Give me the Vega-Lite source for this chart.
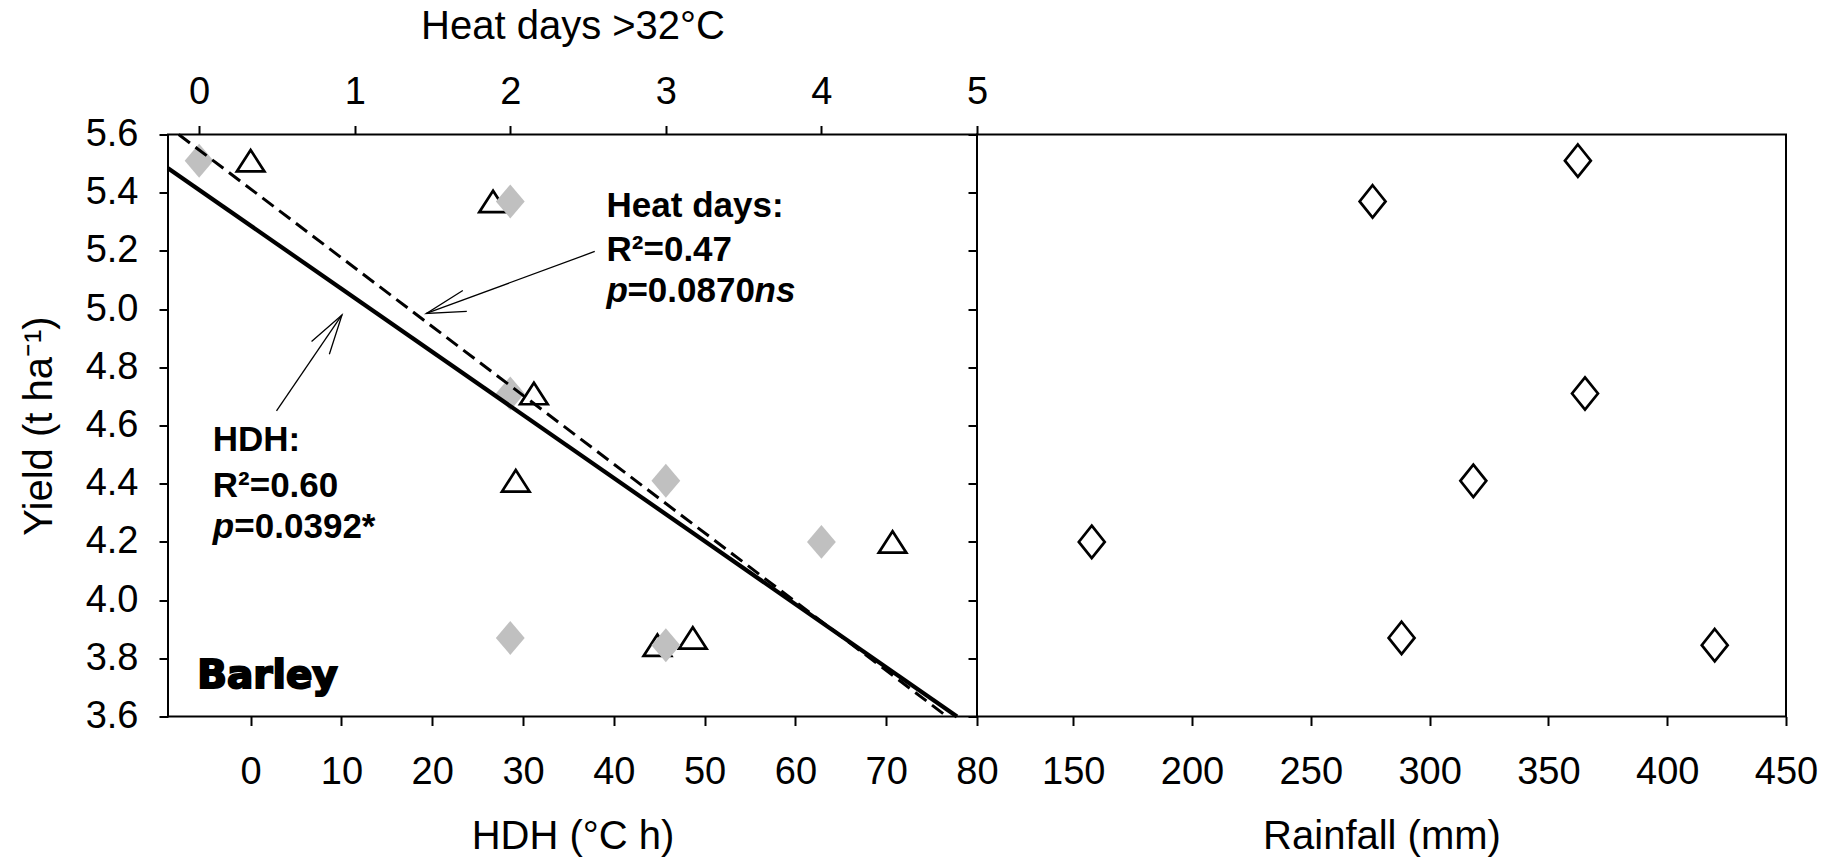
{
  "$schema": "https://vega.github.io/schema/vega-lite/v6.json",
  "background": "white",
  "padding": {"left": 18, "top": 4.5, "right": 40, "bottom": 5},
  "bounds": "flush",
  "spacing": 0,
  "datasets": {
    "hdh": [
      {"hdh": 0, "yield": 5.51},
      {"hdh": 26.7, "yield": 5.37},
      {"hdh": 31.2, "yield": 4.71},
      {"hdh": 29.2, "yield": 4.41},
      {"hdh": 70.7, "yield": 4.2},
      {"hdh": 48.7, "yield": 3.87},
      {"hdh": 44.8, "yield": 3.845}
    ],
    "heat": [
      {"days": 0, "yield": 5.51},
      {"days": 2, "yield": 5.37},
      {"days": 2, "yield": 4.71},
      {"days": 3, "yield": 4.41},
      {"days": 4, "yield": 4.2},
      {"days": 2, "yield": 3.87},
      {"days": 3, "yield": 3.845}
    ],
    "rain": [
      {"rainfall": 157.8, "yield": 4.2},
      {"rainfall": 276, "yield": 5.37},
      {"rainfall": 288.2, "yield": 3.87},
      {"rainfall": 318.4, "yield": 4.41},
      {"rainfall": 362.4, "yield": 5.51},
      {"rainfall": 365.4, "yield": 4.71},
      {"rainfall": 420, "yield": 3.845}
    ],
    "fitHDH": [
      {"hdh": -9.1, "yield": 5.484},
      {"hdh": 77.8, "yield": 3.6}
    ],
    "fitHeat": [
      {"days": -0.131, "yield": 5.6},
      {"days": 4.807, "yield": 3.6}
    ],
    "arrows": [
      {"seg": "s1", "o": 0, "hdh": 37.9, "yield": 5.198},
      {"seg": "s1", "o": 1, "hdh": 19.36, "yield": 4.985},
      {"seg": "h1", "o": 0, "hdh": 23.37, "yield": 5.064},
      {"seg": "h1", "o": 1, "hdh": 19.36, "yield": 4.985},
      {"seg": "h1", "o": 2, "hdh": 23.81, "yield": 4.992},
      {"seg": "s2", "o": 0, "hdh": 2.85, "yield": 4.65},
      {"seg": "s2", "o": 1, "hdh": 10.06, "yield": 4.98},
      {"seg": "h2", "o": 0, "hdh": 6.71, "yield": 4.889},
      {"seg": "h2", "o": 1, "hdh": 10.06, "yield": 4.98},
      {"seg": "h2", "o": 2, "hdh": 8.67, "yield": 4.845}
    ],
    "labels": [
      {"label": "Heat days:", "style": "b", "hdh": 39.2, "yield": 5.318},
      {"label": "R²=0.47", "style": "b", "hdh": 39.2, "yield": 5.164},
      {"label": "p", "style": "bi", "hdh": 39.2, "yield": 5.026},
      {"label": "=0.0870", "style": "b", "hdh": 41.5, "yield": 5.026},
      {"label": "ns", "style": "bi", "hdh": 55.5, "yield": 5.026},
      {"label": "HDH:", "style": "b", "hdh": -4.17, "yield": 4.511},
      {"label": "R²=0.60", "style": "b", "hdh": -4.17, "yield": 4.356},
      {"label": "p", "style": "bi", "hdh": -4.17, "yield": 4.212},
      {"label": "=0.0392*", "style": "b", "hdh": -1.79, "yield": 4.212},
      {"label": "Barley", "style": "black", "hdh": -5.88, "yield": 3.697}
    ]
  },
  "hconcat": [
    {
      "width": 809,
      "height": 582,
      "layer": [
        {
          "data": {"name": "hdh"},
          "mark": {"type": "point", "shape": "M0,-0.78L1,0.78L-1,0.78Z", "size": 760, "filled": false, "stroke": "black", "strokeWidth": 2.7, "opacity": 1},
          "encoding": {
            "x": {"field": "hdh", "type": "quantitative", "scale": {"domain": [-9.1, 80], "nice": false, "zero": false},
                  "axis": {"orient": "bottom", "values": [0, 10, 20, 30, 40, 50, 60, 70, 80], "format": "d", "title": "HDH (°C h)"}},
            "y": {"field": "yield", "type": "quantitative", "scale": {"domain": [3.6, 5.6], "nice": false, "zero": false},
                  "axis": {"values": [3.6, 3.8, 4.0, 4.2, 4.4, 4.6, 4.8, 5.0, 5.2, 5.4, 5.6], "format": ".1f", "title": "Yield (t ha⁻¹)"}}
          }
        },
        {
          "layer": [
            {
              "data": {"name": "heat"},
              "mark": {"type": "point", "shape": "M0,-1L0.85,0L0,1L-0.85,0Z", "size": 1150, "filled": true, "fill": "#c0c0c0", "strokeWidth": 0, "opacity": 1},
              "encoding": {
                "x": {"field": "days", "type": "quantitative", "scale": {"domain": [-0.2, 5], "nice": false, "zero": false},
                      "axis": {"orient": "top", "values": [0, 1, 2, 3, 4, 5], "format": "d", "title": "Heat days >32°C"}},
                "y": {"field": "yield", "type": "quantitative", "scale": {"domain": [3.6, 5.6], "nice": false, "zero": false}}
              }
            },
            {
              "data": {"name": "fitHeat"},
              "mark": {"type": "line", "color": "black", "strokeWidth": 3, "strokeDash": [14, 7]},
              "encoding": {
                "x": {"field": "days", "type": "quantitative", "scale": {"domain": [-0.2, 5], "nice": false, "zero": false}},
                "y": {"field": "yield", "type": "quantitative", "scale": {"domain": [3.6, 5.6], "nice": false, "zero": false}}
              }
            }
          ]
        },
        {
          "layer": [
            {
              "data": {"name": "fitHDH"},
              "mark": {"type": "line", "color": "black", "strokeWidth": 4.2},
              "encoding": {
                "x": {"field": "hdh", "type": "quantitative", "scale": {"domain": [-9.1, 80], "nice": false, "zero": false}, "axis": null},
                "y": {"field": "yield", "type": "quantitative", "scale": {"domain": [3.6, 5.6], "nice": false, "zero": false}}
              }
            },
            {
              "data": {"name": "arrows"},
              "mark": {"type": "line", "color": "black", "strokeWidth": 1.3},
              "encoding": {
                "x": {"field": "hdh", "type": "quantitative", "scale": {"domain": [-9.1, 80], "nice": false, "zero": false}, "axis": null},
                "y": {"field": "yield", "type": "quantitative", "scale": {"domain": [3.6, 5.6], "nice": false, "zero": false}},
                "detail": {"field": "seg"},
                "order": {"field": "o"}
              }
            },
            {
              "data": {"name": "labels"},
              "transform": [{"filter": "datum.style === 'b'"}],
              "mark": {"type": "text", "align": "left", "baseline": "alphabetic", "font": "Liberation Sans", "fontWeight": "bold", "fontSize": 35, "color": "black"},
              "encoding": {
                "x": {"field": "hdh", "type": "quantitative", "scale": {"domain": [-9.1, 80], "nice": false, "zero": false}, "axis": null},
                "y": {"field": "yield", "type": "quantitative", "scale": {"domain": [3.6, 5.6], "nice": false, "zero": false}},
                "text": {"field": "label"}
              }
            },
            {
              "data": {"name": "labels"},
              "transform": [{"filter": "datum.style === 'bi'"}],
              "mark": {"type": "text", "align": "left", "baseline": "alphabetic", "font": "Liberation Sans", "fontWeight": "bold", "fontStyle": "italic", "fontSize": 35, "color": "black"},
              "encoding": {
                "x": {"field": "hdh", "type": "quantitative", "scale": {"domain": [-9.1, 80], "nice": false, "zero": false}, "axis": null},
                "y": {"field": "yield", "type": "quantitative", "scale": {"domain": [3.6, 5.6], "nice": false, "zero": false}},
                "text": {"field": "label"}
              }
            },
            {
              "data": {"name": "labels"},
              "transform": [{"filter": "datum.style === 'black'"}],
              "mark": {"type": "text", "align": "left", "baseline": "alphabetic", "font": "DejaVu Sans", "fontWeight": "bold", "fontSize": 39, "color": "black", "stroke": "black", "strokeWidth": 2},
              "encoding": {
                "x": {"field": "hdh", "type": "quantitative", "scale": {"domain": [-9.1, 80], "nice": false, "zero": false}, "axis": null},
                "y": {"field": "yield", "type": "quantitative", "scale": {"domain": [3.6, 5.6], "nice": false, "zero": false}},
                "text": {"field": "label"}
              }
            }
          ]
        }
      ],
      "resolve": {"scale": {"x": "independent"}, "axis": {"x": "independent"}}
    },
    {
      "width": 809,
      "height": 582,
      "data": {"name": "rain"},
      "mark": {"type": "point", "shape": "M0,-1L0.8,0L0,1L-0.8,0Z", "size": 1050, "filled": false, "stroke": "black", "strokeWidth": 2.7, "opacity": 1},
      "encoding": {
        "x": {"field": "rainfall", "type": "quantitative", "scale": {"domain": [109.5, 450], "nice": false, "zero": false},
              "axis": {"orient": "bottom", "values": [150, 200, 250, 300, 350, 400, 450], "format": "d", "title": "Rainfall (mm)"}},
        "y": {"field": "yield", "type": "quantitative", "scale": {"domain": [3.6, 5.6], "nice": false, "zero": false},
              "axis": {"values": [3.6, 3.8, 4.0, 4.2, 4.4, 4.6, 4.8, 5.0, 5.2, 5.4, 5.6], "labels": false, "title": null}}
      }
    }
  ],
  "config": {
    "font": "Liberation Sans",
    "view": {"stroke": "black", "strokeWidth": 2},
    "axis": {
      "domain": false,
      "grid": false,
      "ticks": true,
      "tickColor": "black",
      "tickWidth": 2,
      "tickSize": 9,
      "labelColor": "black",
      "labelFont": "Liberation Sans",
      "labelFontSize": 38,
      "labelFlush": false,
      "labelOverlap": false,
      "titleFont": "Liberation Sans",
      "titleFontSize": 40,
      "titleFontWeight": "normal",
      "titleColor": "black"
    },
    "axisBottom": {"labelPadding": 28, "titlePadding": 25},
    "axisTop": {"labelPadding": 14, "titlePadding": 27.5},
    "axisLeft": {"labelPadding": 21, "titlePadding": 26}
  }
}
